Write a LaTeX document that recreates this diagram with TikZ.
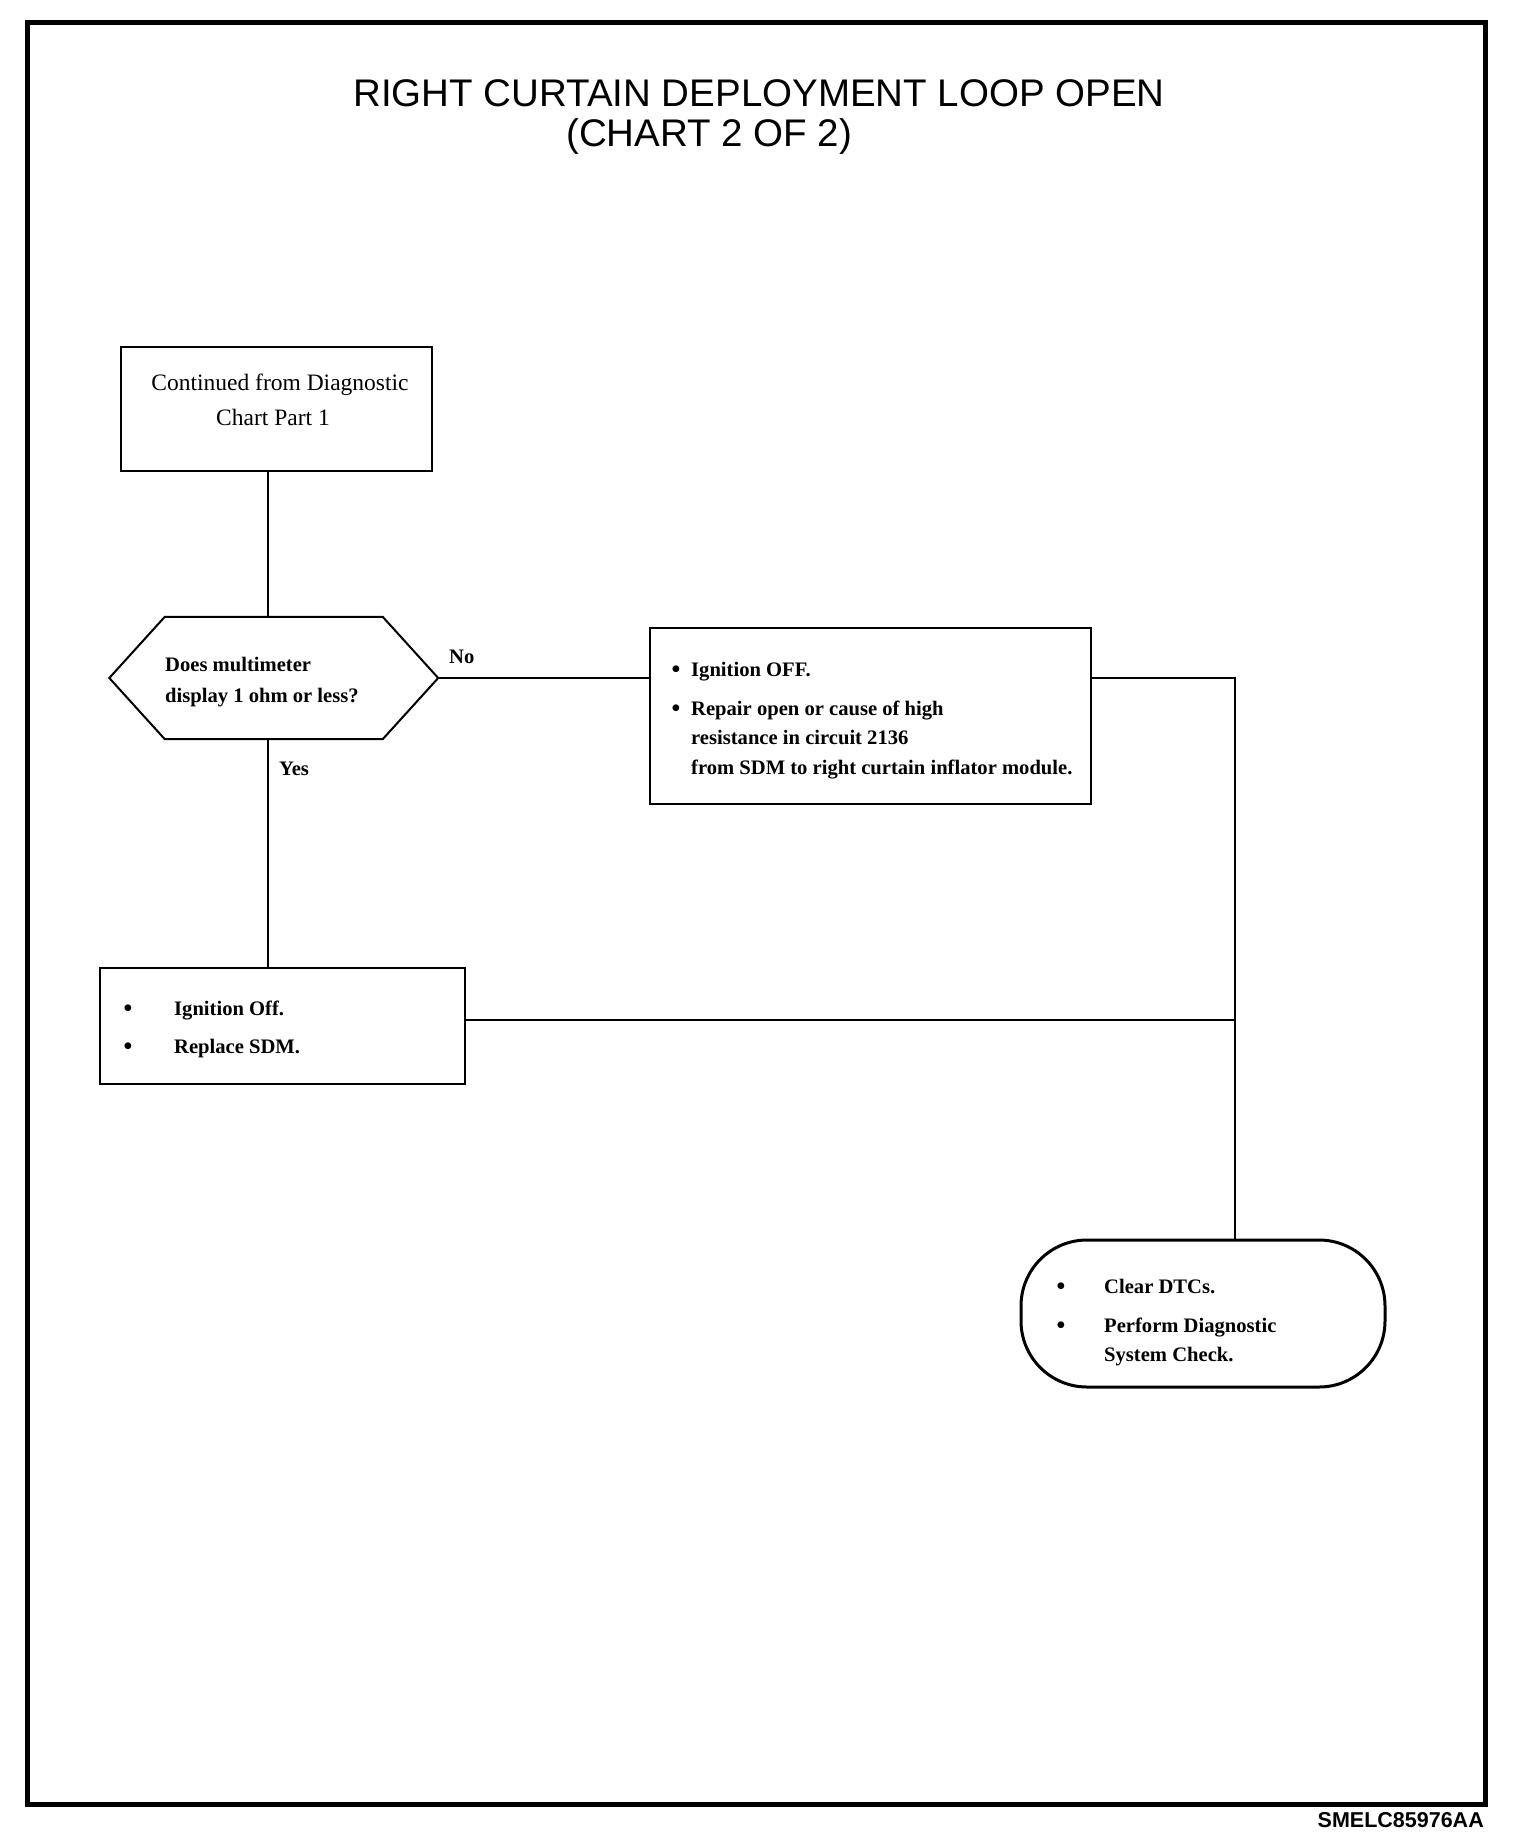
\documentclass[tikz,border=0pt]{standalone}
\usepackage{fontspec}
\setmainfont{Liberation Serif}
\newfontfamily\arialf{Liberation Sans}
\usetikzlibrary{calc}
\begin{document}
\begin{tikzpicture}[x=1pt,y=-1pt,
  box/.style={draw, line width=2pt, inner sep=0pt},
  conn/.style={line width=1.3pt},
  txt/.style={anchor=base west, inner sep=0pt, font=\fontsize{20.6}{25}\selectfont\bfseries},
  rtxt/.style={anchor=base, inner sep=0pt, font=\fontsize{23.5}{27}\selectfont},
  bul/.style={anchor=base, inner sep=0pt, font=\fontsize{25}{25}\selectfont\bfseries},
  ttl/.style={anchor=base west, inner sep=0pt, font=\arialf\fontsize{38.5}{40}\selectfont},
]
\useasboundingbox (0,0) rectangle (1520,1846);
\fill[white] (0,0) rectangle (1520,1846);
% frame
\draw[line width=5pt] (27,23) rectangle (1485,1804);
% title
\node[ttl] (t1) at (353,107) {RIGHT CURTAIN DEPLOYMENT LOOP OPEN};
\node[ttl] (t2) at (566,147) {(CHART 2 OF 2)};
\node[anchor=base east, inner sep=0pt, font=\arialf\bfseries\fontsize{21.5}{24}\selectfont] (code) at (1484,1827) {SMELC85976AA};

% nodes
\node[box, minimum width=311pt, minimum height=124pt] (b1) at (276.5,409) {};
\node[rtxt] (b1a) at (280,390) {Continued from Diagnostic};
\node[rtxt] (b1b) at (273,425) {Chart Part 1};

\node[inner sep=0pt, minimum width=328.5pt, minimum height=122pt] (hex) at (273.75,678) {};
\draw[line width=2pt] (hex.west) -- ($(hex.north west)+(55.5,0)$) -- ($(hex.north east)+(-55.5,0)$)
  -- (hex.east) -- ($(hex.south east)+(-55.5,0)$) -- ($(hex.south west)+(55.5,0)$) -- cycle;
\node[txt] (h1) at (165,671) {Does multimeter};
\node[txt] (h2) at (165,702) {display 1 ohm or less?};

\node[txt] (no) at (449,663) {No};
\node[txt] (yes) at (279,775) {Yes};

\node[box, minimum width=441pt, minimum height=176pt] (b2) at (870.5,716) {};
\node[bul] (b2d1) at (676,677) {\textbullet};
\node[txt] (b2l1) at (691,676) {Ignition OFF.};
\node[bul] (b2d2) at (676,716) {\textbullet};
\node[txt] (b2l2) at (691,715) {Repair open or cause of high};
\node[txt] (b2l3) at (691,744) {resistance in circuit 2136};
\node[txt] (b2l4) at (691,774) {from SDM to right curtain inflator module.};

\node[box, minimum width=365pt, minimum height=116pt] (b3) at (282.5,1026) {};
\node[bul] (b3d1) at (128,1016) {\textbullet};
\node[txt] (b3l1) at (174,1015) {Ignition Off.};
\node[bul] (b3d2) at (128,1054) {\textbullet};
\node[txt] (b3l2) at (174,1053) {Replace SDM.};

\node[draw, line width=3pt, rounded corners=66pt, inner sep=0pt, minimum width=364pt, minimum height=147pt] (rb) at (1203,1313.5) {};
\node[bul] (rbd1) at (1061,1294) {\textbullet};
\node[txt] (rbl1) at (1104,1293) {Clear DTCs.};
\node[bul] (rbd2) at (1061,1333) {\textbullet};
\node[txt] (rbl2) at (1104,1332) {Perform Diagnostic};
\node[txt] (rbl3) at (1104,1361) {System Check.};

% connectors
\coordinate (spine) at (268,0);
\coordinate (bus) at (1235,0);
\coordinate (j3) at ($(b3.east)+(0,-6)$);
\draw[conn] (spine |- b1.south) -- (spine |- hex.north);
\draw[conn] (spine |- hex.south) -- (spine |- b3.north);
\draw[conn] (hex.east) -- (hex.east -| b2.west);
\draw[conn] (b2.east |- hex.east) -- (bus |- hex.east) -- (bus |- rb.north);
\draw[conn] (j3) -- (bus |- j3);
\end{tikzpicture}
\end{document}
